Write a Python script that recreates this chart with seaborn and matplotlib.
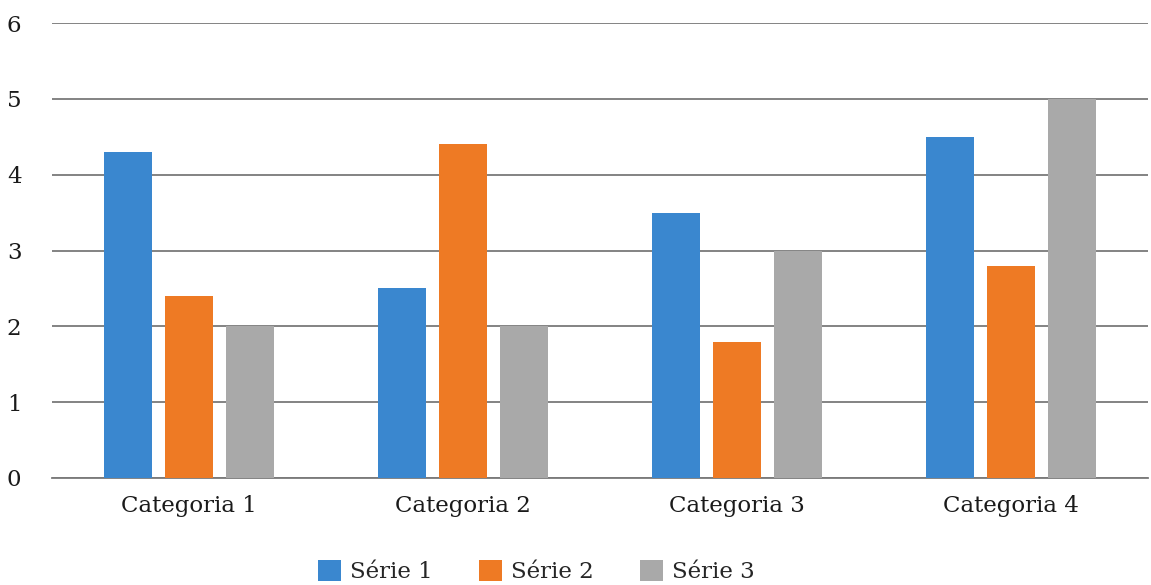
#%%
# Imports
import numpy as np
import pandas as pd
import matplotlib.pyplot as plt
import seaborn as sns

#%%
# Dados
categorias = ['Categoria 1', 'Categoria 2', 'Categoria 3', 'Categoria 4']
serie1 = [4.3, 2.5, 3.5, 4.5]
serie2 = [2.4, 4.4, 1.8, 2.8]
serie3 = [2, 2, 3, 5]
series = ['Série 1', 'Série 2', 'Série 3']
cores = ['#3A87CF', '#EE7A24', '#A9A9A9']

df = pd.DataFrame({
    'categoria': categorias * 3,
    'serie': [s for s in series for _ in categorias],
    'valor': serie1 + serie2 + serie3,
})

#%%
# Gráfico
sns.set_style('white')
plt.rcParams['font.family'] = ['DejaVu Serif']

fig = plt.figure(figsize=(11.51, 5.85), dpi=100)
ax = fig.add_axes([52 / 1151, 1 - 478 / 585, (1148 - 52) / 1151, (478 - 23) / 585])

sns.barplot(data=df, x='categoria', y='valor', hue='serie', palette=cores,
            width=0.67, gap=0.21, saturation=1, linewidth=0, ax=ax, zorder=3)

ax.set_ylim(0, 6)
ax.set_xlim(-0.5, 3.5)
ax.set_yticks(range(7))
ax.yaxis.grid(True, color='#7a7a7a', linewidth=1.3, zorder=0)
ax.set_axisbelow(True)
for s in ['top', 'right', 'left']:
    ax.spines[s].set_visible(False)
ax.spines['bottom'].set_color('#7a7a7a')
ax.spines['bottom'].set_linewidth(1.3)
ax.tick_params(axis='both', length=0, labelsize=16.5, colors='#1a1a1a')
ax.tick_params(axis='y', pad=22)
ax.tick_params(axis='x', pad=12)
ax.set_xlabel('')
ax.set_ylabel('')

ax.legend(loc='upper center', bbox_to_anchor=(0.442, -0.135), ncol=3,
          frameon=False, fontsize=16.5, handlelength=1.0, handleheight=1.0,
          handletextpad=0.4, columnspacing=2.0)

fig.savefig('out.png', dpi=100)
